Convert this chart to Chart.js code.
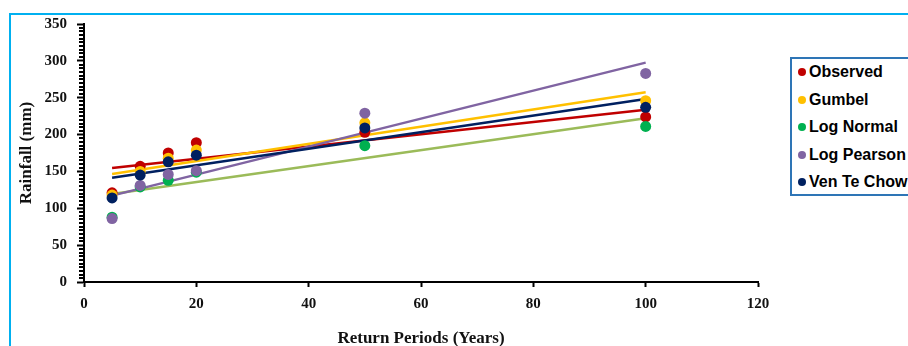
<!DOCTYPE html>
<html>
<head>
<meta charset="utf-8">
<script src="https://cdn.jsdelivr.net/npm/chart.js@4/dist/chart.umd.min.js"></script>
<style>
  html, body { margin: 0; padding: 0; background: #fff; overflow: hidden; }
  #wrap { position: relative; width: 908px; height: 346px; overflow: hidden; }
  #frame {
    position: absolute; left: 9px; top: 13px; width: 1000px; height: 400px;
    border-left: 2px solid #00B0F0; border-top: 2px solid #00B0F0;
  }
  #chart { position: absolute; left: 0; top: 0; }
  #legend {
    position: absolute; left: 790px; top: 57px; width: 150px; height: 135px;
    border: 2px solid #2E75B6; background: #fff;
    font: bold 16px "Liberation Sans", Arial, sans-serif; color: #000;
  }
  #legend .item { position: absolute; left: 0; height: 20px; line-height: 20px; white-space: nowrap; }
  #legend .dot { position: absolute; left: 6px; top: 6px; width: 8px; height: 8px; border-radius: 50%; }
  #legend .txt { position: absolute; left: 17px; top: 0; }
</style>
</head>
<body>
<div id="wrap">
  <div id="frame"></div>
  <canvas id="chart" width="908" height="346"></canvas>
  <div id="legend"></div>
</div>
<script>
// Return periods (years) and rainfall estimates (mm) for each method
const years = [5, 10, 15, 20, 50, 100];
const observed = [121, 157, 175, 189, 203, 224];
const gumbel = [118, 150, 168, 179, 216, 246];
const logNormal = [88, 129, 138, 149, 185, 211];
const logPearson = [86, 131, 146, 151, 229, 283];
const venTeChow = [114, 145, 163, 172, 209, 237];

const seriesNames = ['Observed', 'Gumbel', 'Log Normal', 'Log Pearson', 'Ven Te Chow'];
const seriesValues = [observed, gumbel, logNormal, logPearson, venTeChow];
const dotColors = ['#C00000', '#FFC000', '#00B050', '#8064A2', '#002060'];
const lineColors = ['#C00000', '#FFC000', '#9BBB59', '#8064A2', '#002060'];

const xTicks = [0, 20, 40, 60, 80, 100, 120];
const yTicks = [0, 50, 100, 150, 200, 250, 300, 350];

// Least-squares linear trend over the plotted years
function linearTrend(xs, ys) {
  const n = xs.length;
  const mx = xs.reduce((a, b) => a + b, 0) / n;
  const my = ys.reduce((a, b) => a + b, 0) / n;
  let sxy = 0, sxx = 0;
  for (let i = 0; i < n; i++) {
    sxy += (xs[i] - mx) * (ys[i] - my);
    sxx += (xs[i] - mx) * (xs[i] - mx);
  }
  const slope = sxy / sxx;
  const icpt = my - slope * mx;
  const x0 = Math.min(...xs), x1 = Math.max(...xs);
  return [{ x: x0, y: icpt + slope * x0 }, { x: x1, y: icpt + slope * x1 }];
}

const datasets = [];
seriesValues.forEach((vals, i) => {
  datasets.push({
    label: seriesNames[i] + ' trend',
    data: linearTrend(years, vals),
    showLine: true,
    borderColor: lineColors[i],
    borderWidth: 2.5,
    pointRadius: 0,
    order: 20 - i
  });
});
seriesValues.forEach((vals, i) => {
  datasets.push({
    label: seriesNames[i],
    data: years.map((x, k) => ({ x: x, y: vals[k] })),
    showLine: false,
    backgroundColor: dotColors[i],
    borderColor: dotColors[i],
    borderWidth: 0,
    pointRadius: 5.5,
    pointHoverRadius: 5.5,
    order: 10 - i
  });
});

// Short minor tick marks every 5 mm on the value axis
const minorTicks = {
  id: 'minorTicks',
  afterDraw(chart) {
    const s = chart.scales.y;
    const ctx = chart.ctx;
    ctx.save();
    ctx.strokeStyle = '#000';
    ctx.lineWidth = 2;
    for (let v = 0; v <= 350; v += 5) {
      if (v % 50 === 0) continue;
      const y = Math.round(s.getPixelForValue(v));
      ctx.beginPath();
      ctx.moveTo(s.right - 5, y);
      ctx.lineTo(s.right, y);
      ctx.stroke();
    }
    ctx.restore();
  }
};

const tickFont = { family: '"Liberation Serif", "Times New Roman", serif', size: 15, weight: 'bold' };
const titleFont = { family: '"Liberation Serif", "Times New Roman", serif', size: 17, weight: 'bold' };

new Chart(document.getElementById('chart'), {
  type: 'scatter',
  data: { datasets: datasets },
  options: {
    responsive: false,
    animation: false,
    events: [],
    layout: { padding: { top: 24, right: 150, left: 0, bottom: 0 } },
    plugins: { legend: { display: false }, tooltip: { enabled: false } },
    scales: {
      x: {
        type: 'linear',
        min: 0, max: 120,
        afterBuildTicks: (s) => { s.ticks = xTicks.map(v => ({ value: v })); },
        afterFit: (s) => { s.height = 64; },
        border: { display: true, color: '#000', width: 2 },
        grid: { drawOnChartArea: false, drawTicks: true, tickLength: 5, tickWidth: 2, tickColor: '#000' },
        ticks: { font: tickFont, color: '#111', padding: 8, maxRotation: 0 },
        title: { display: true, text: 'Return Periods (Years)', font: titleFont, color: '#111', padding: { top: 0, bottom: -3 } }
      },
      y: {
        type: 'linear',
        min: 0, max: 350,
        afterBuildTicks: (s) => { s.ticks = yTicks.map(v => ({ value: v })); },
        afterFit: (s) => { s.width = 84; },
        border: { display: true, color: '#000', width: 2 },
        grid: { drawOnChartArea: false, drawTicks: true, tickLength: 7, tickWidth: 2, tickColor: '#000' },
        ticks: { font: tickFont, color: '#111', padding: 10 },
        title: { display: true, text: 'Rainfall (mm)', font: titleFont, color: '#111', padding: { top: 16, bottom: 0 } }
      }
    }
  },
  plugins: [minorTicks]
});

// Legend built from the series names and dot colours
const legend = document.getElementById('legend');
seriesNames.forEach((name, i) => {
  const item = document.createElement('div');
  item.className = 'item';
  item.style.top = (3 + i * 27.5) + 'px';
  const dot = document.createElement('span');
  dot.className = 'dot';
  dot.style.background = dotColors[i];
  const txt = document.createElement('span');
  txt.className = 'txt';
  txt.textContent = name;
  item.appendChild(dot);
  item.appendChild(txt);
  legend.appendChild(item);
});
</script>
</body>
</html>
